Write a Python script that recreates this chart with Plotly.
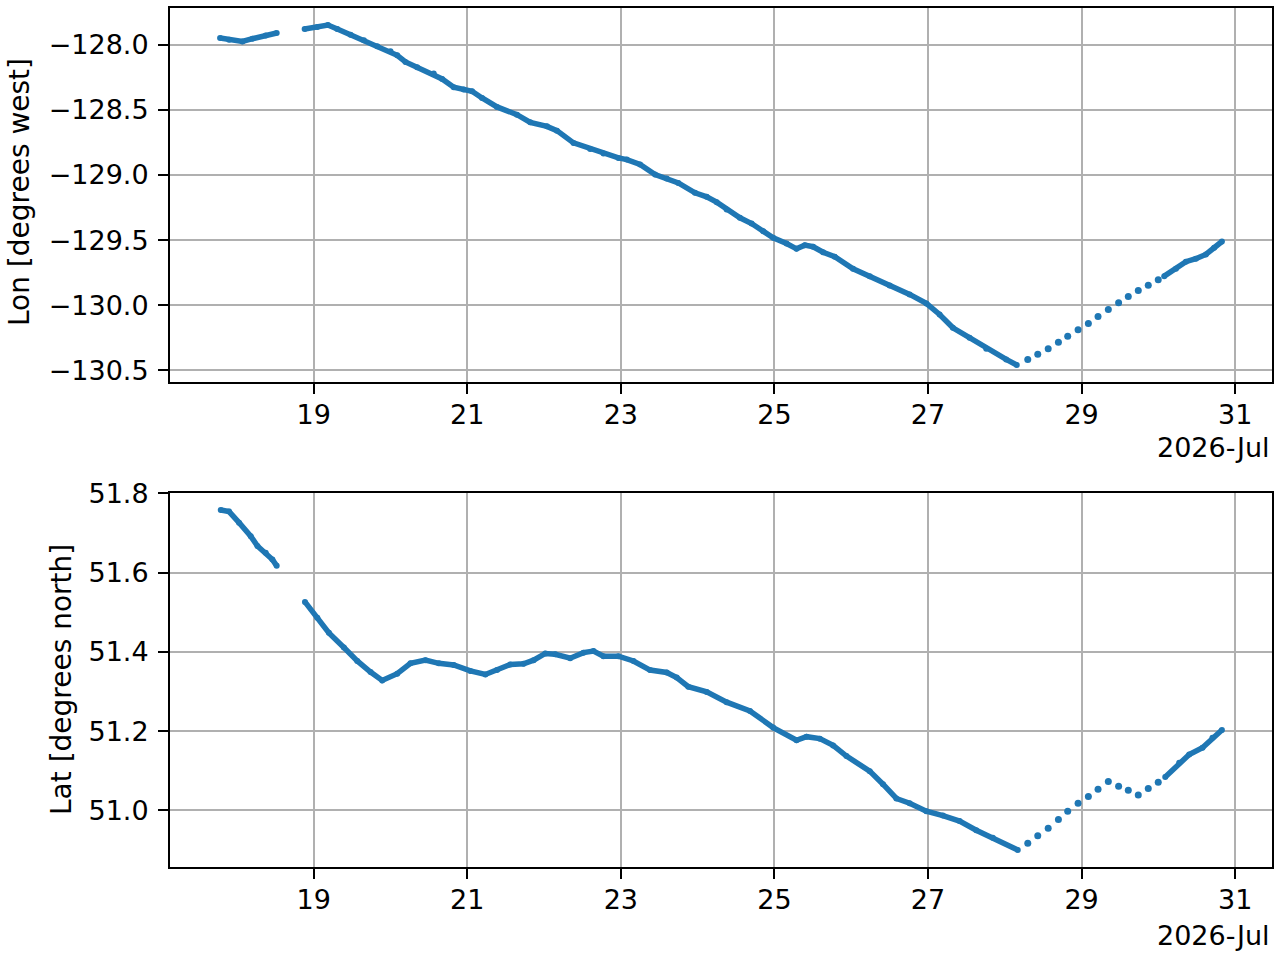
import pandas as pd
import plotly.graph_objects as go

# ---------------- data (day of July 2026, values) ----------------
lon_seg1_day = [17.782, 17.899, 18.073, 18.203, 18.376, 18.519]
lon_seg1 = [-127.949, -127.962, -127.975, -127.954, -127.929, -127.910]

lon_seg2_day = [18.883, 19.048, 19.186, 19.308, 19.481, 19.654, 19.828, 20.001, 20.088, 20.196,
                20.348, 20.564, 20.673, 20.824, 20.954, 21.063, 21.193, 21.388, 21.648, 21.821,
                22.038, 22.168, 22.384, 22.601, 22.774, 22.969, 23.078, 23.251, 23.446, 23.598,
                23.749, 23.966, 24.118, 24.248, 24.378, 24.551, 24.703, 24.854, 24.984, 25.158,
                25.288, 25.396, 25.504, 25.634, 25.786, 26.024, 26.241, 26.501, 26.761, 26.978,
                27.151, 27.324, 27.541, 27.758, 28.018, 28.156]
lon_seg2 = [-127.880, -127.864, -127.849, -127.880, -127.923, -127.967, -128.013, -128.051, -128.082, -128.133,
            -128.174, -128.222, -128.263, -128.327, -128.345, -128.358, -128.409, -128.478, -128.537, -128.596,
            -128.627, -128.660, -128.754, -128.800, -128.836, -128.869, -128.882, -128.920, -128.997, -129.028,
            -129.061, -129.137, -129.168, -129.209, -129.265, -129.329, -129.373, -129.432, -129.482, -129.526,
            -129.567, -129.539, -129.551, -129.593, -129.628, -129.720, -129.777, -129.848, -129.917, -129.986,
            -130.071, -130.173, -130.249, -130.334, -130.416, -130.459]

dot_day = [28.299, 28.429, 28.565, 28.698, 28.819, 28.954, 29.088, 29.214, 29.348, 29.482,
           29.608, 29.738, 29.868, 29.998]
lon_dots = [-130.416, -130.377, -130.334, -130.285, -130.239, -130.188, -130.140, -130.086, -130.032, -129.981,
            -129.933, -129.887, -129.846, -129.804]
lat_dots = [50.917, 50.936, 50.955, 50.977, 50.998, 51.018, 51.035, 51.053, 51.073, 51.061,
            51.051, 51.039, 51.055, 51.071]

lon_seg3_day = [30.076, 30.228, 30.358, 30.488, 30.618, 30.726, 30.827]
lon_seg3 = [-129.777, -129.720, -129.666, -129.643, -129.610, -129.559, -129.511]

lat_seg1_day = [17.791, 17.899, 18.029, 18.181, 18.268, 18.376, 18.463, 18.519]
lat_seg1 = [51.758, 51.754, 51.726, 51.692, 51.667, 51.650, 51.633, 51.617]

lat_seg2_day = [18.887, 19.048, 19.199, 19.394, 19.568, 19.741, 19.893, 20.088, 20.261, 20.456,
                20.629, 20.824, 21.041, 21.236, 21.388, 21.561, 21.734, 21.864, 22.016, 22.146,
                22.341, 22.514, 22.644, 22.774, 22.969, 23.164, 23.381, 23.598, 23.728, 23.879,
                24.118, 24.378, 24.681, 24.984, 25.288, 25.418, 25.591, 25.764, 25.938, 26.241,
                26.414, 26.588, 26.761, 26.978, 27.194, 27.411, 27.628, 27.844, 28.169]
lat_seg2 = [51.526, 51.486, 51.448, 51.411, 51.377, 51.349, 51.328, 51.345, 51.371, 51.379,
            51.371, 51.367, 51.352, 51.343, 51.354, 51.368, 51.370, 51.379, 51.396, 51.394,
            51.384, 51.398, 51.402, 51.389, 51.389, 51.377, 51.354, 51.348, 51.335, 51.312,
            51.299, 51.273, 51.251, 51.209, 51.177, 51.186, 51.181, 51.164, 51.137, 51.099,
            51.066, 51.030, 51.018, 50.998, 50.987, 50.973, 50.950, 50.931, 50.900]

lat_seg3_day = [30.089, 30.271, 30.401, 30.574, 30.704, 30.827]
lat_seg3 = [51.084, 51.120, 51.141, 51.158, 51.183, 51.203]

x_tick_days = [19, 21, 23, 25, 27, 29, 31]
x_tick_text = ["19", "21", "23", "25", "27", "29", "31"]
lon_ticks = [-128.0, -128.5, -129.0, -129.5, -130.0, -130.5]
lon_tick_text = ["\u2212128.0", "\u2212128.5", "\u2212129.0", "\u2212129.5", "\u2212130.0", "\u2212130.5"]
lat_ticks = [51.0, 51.2, 51.4, 51.6, 51.8]
lat_tick_text = ["51.0", "51.2", "51.4", "51.6", "51.8"]

# ---------------- helpers ----------------
BASE = pd.Timestamp("2026-07-01")


def to_time(days):
    return [BASE + pd.Timedelta(days=d - 1) for d in days]


def join(*segs):
    xs, ys = [], []
    for i, (d, v) in enumerate(segs):
        if i:
            xs.append(None)
            ys.append(None)
        xs += to_time(d)
        ys += list(v)
    return xs, ys


COLOR = "#1f77b4"
FONT = dict(family="DejaVu Sans", size=27, color="black")
LABEL_FONT = dict(family="DejaVu Sans", size=28, color="black")

fig = go.Figure()

# top panel
x, y = join((lon_seg1_day, lon_seg1), (lon_seg2_day, lon_seg2), (lon_seg3_day, lon_seg3))
fig.add_trace(go.Scatter(x=x, y=y, mode="lines+markers", line=dict(color=COLOR, width=5.5),
                         marker=dict(color=COLOR, size=6), xaxis="x", yaxis="y",
                         showlegend=False, connectgaps=False))
fig.add_trace(go.Scatter(x=to_time(dot_day), y=lon_dots, mode="markers",
                         marker=dict(color=COLOR, size=7), xaxis="x", yaxis="y", showlegend=False))

# bottom panel
x, y = join((lat_seg1_day, lat_seg1), (lat_seg2_day, lat_seg2), (lat_seg3_day, lat_seg3))
fig.add_trace(go.Scatter(x=x, y=y, mode="lines+markers", line=dict(color=COLOR, width=5.5),
                         marker=dict(color=COLOR, size=6), xaxis="x2", yaxis="y2",
                         showlegend=False, connectgaps=False))
fig.add_trace(go.Scatter(x=to_time(dot_day), y=lat_dots, mode="markers",
                         marker=dict(color=COLOR, size=7), xaxis="x2", yaxis="y2", showlegend=False))


def pad_range(vals, frac=0.05):
    lo, hi = min(vals), max(vals)
    s = hi - lo
    return [lo - frac * s, hi + frac * s]


all_days = lon_seg1_day + lon_seg2_day + dot_day + lon_seg3_day
x_range = to_time(pad_range(all_days))
lon_range = pad_range(lon_seg1 + lon_seg2 + lon_dots + lon_seg3)
lat_range = pad_range(lat_seg1 + lat_seg2 + lat_dots + lat_seg3)

axis_common = dict(showgrid=True, gridcolor="#b0b0b0", gridwidth=2, showline=True,
                   linecolor="black", linewidth=2, mirror=True, ticks="outside",
                   ticklen=10, tickwidth=2, tickcolor="black", tickfont=FONT,
                   zeroline=False, automargin=False)

top_dom = [0.5646, 1.0]
bot_dom = [0.0, 0.4354]

fig.update_layout(
    template="none",
    width=1280, height=960,
    margin=dict(l=170, r=8, t=8, b=93, autoexpand=False),
    paper_bgcolor="white", plot_bgcolor="white",
    xaxis=dict(domain=[0, 1], anchor="y", type="date", range=x_range,
               tickvals=to_time(x_tick_days), ticktext=x_tick_text,
               ticklabelstandoff=-2, **axis_common),
    yaxis=dict(domain=top_dom, anchor="x", range=lon_range, tickvals=lon_ticks,
               ticktext=lon_tick_text, ticklabelstandoff=4, **axis_common),
    xaxis2=dict(domain=[0, 1], anchor="y2", type="date", range=x_range,
                tickvals=to_time(x_tick_days), ticktext=x_tick_text,
                ticklabelstandoff=-2, **axis_common),
    yaxis2=dict(domain=bot_dom, anchor="x2", range=lat_range, tickvals=lat_ticks,
                ticktext=lat_tick_text, ticklabelstandoff=4, **axis_common),
    annotations=[
        dict(text="Lon [degrees west]", xref="paper", yref="paper", x=-0.1361, y=0.7858,
             textangle=-90, showarrow=False, font=LABEL_FONT, xanchor="center", yanchor="middle"),
        dict(text="Lat [degrees north]", xref="paper", yref="paper", x=-0.098, y=0.2177,
             textangle=-90, showarrow=False, font=LABEL_FONT, xanchor="center", yanchor="middle"),
        dict(text="2026-Jul", xref="paper", yref="paper", x=1.0, y=0.4878,
             showarrow=False, font=FONT, xanchor="right", yanchor="middle"),
        dict(text="2026-Jul", xref="paper", yref="paper", x=1.0, y=-0.0803,
             showarrow=False, font=FONT, xanchor="right", yanchor="middle"),
    ],
)

fig.write_html("out.html", config={"displayModeBar": False},
               post_script="document.body.style.margin='0';")
